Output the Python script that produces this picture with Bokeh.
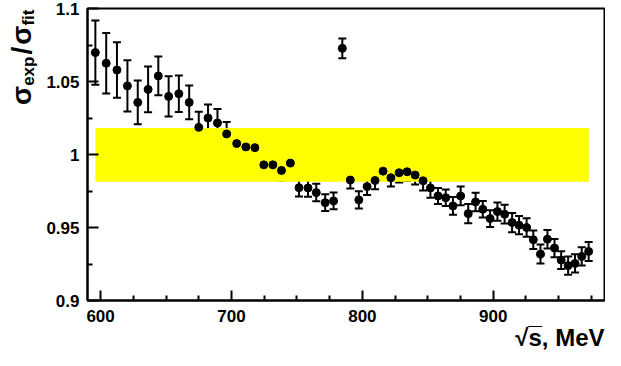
from bokeh.plotting import figure
from bokeh.layouts import row
from bokeh.models import (ColumnDataSource, Range1d, FixedTicker, Whisker, TeeHead, Div, Title)
from bokeh.embed import file_html
from bokeh.resources import INLINE

# ---- data ----
energy = [596.0, 604.3, 612.5, 620.5, 628.4, 636.3, 644.1, 652.0, 659.8, 667.7,
          675.0, 682.1, 689.3, 696.3, 704.0, 711.0, 717.9, 724.7, 731.6, 738.2,
          745.0, 751.6, 758.5, 764.8, 771.6, 778.0, 784.7, 790.8, 797.3, 803.6,
          809.7, 815.8, 821.8, 828.1, 834.2, 840.3, 846.4, 852.0, 857.8, 863.7,
          869.2, 875.1, 880.9, 886.5, 892.0, 897.6, 903.2, 908.7, 914.4, 919.7,
          925.5, 930.6, 936.1, 941.4, 946.8, 951.9, 957.2, 962.5, 967.6, 972.9]
ratio = [1.0698, 1.0625, 1.0579, 1.0470, 1.0357, 1.0446, 1.0538, 1.0398, 1.0416, 1.0357,
         1.0186, 1.0250, 1.0216, 1.0141, 1.0075, 1.0052, 1.0047, 0.9929, 0.9929, 0.9891,
         0.9941, 0.9773, 0.9771, 0.9739, 0.9670, 0.9682, 1.0727, 0.9825, 0.9689, 0.9780,
         0.9822, 0.9886, 0.9841, 0.9875, 0.9882, 0.9859, 0.9820, 0.9771, 0.9716, 0.9704,
         0.9648, 0.9716, 0.9595, 0.9675, 0.9625, 0.9561, 0.9609, 0.9591, 0.9534, 0.9516,
         0.9500, 0.9416, 0.9318, 0.9420, 0.9359, 0.9277, 0.9239, 0.9254, 0.9302, 0.9336]
ratio_err = [0.0220, 0.0207, 0.0190, 0.0176, 0.0150, 0.0157, 0.0133, 0.0138, 0.0125, 0.0116,
             0.0107, 0.0093, 0.0095, 0.0082, 0.0077, 0.0078, 0.0073, 0.0065, 0.0065, 0.0069,
             0.0060, 0.0060, 0.0060, 0.0060, 0.0057, 0.0057, 0.0068, 0.0058, 0.0059, 0.0057,
             0.0060, 0.0061, 0.0061, 0.0066, 0.0064, 0.0065, 0.0066, 0.0068, 0.0055, 0.0057,
             0.0061, 0.0064, 0.0066, 0.0063, 0.0057, 0.0057, 0.0063, 0.0064, 0.0066, 0.0063,
             0.0063, 0.0063, 0.0065, 0.0063, 0.0063, 0.0061, 0.0063, 0.0063, 0.0063, 0.0065]

band_x = [596.0, 973.0]
band_y = [0.9813, 1.0182]

x_range = [590.0, 985.0]
y_range = [0.9, 1.1]
x_major = [600, 700, 800, 900]
x_minor = [625, 650, 675, 725, 750, 775, 825, 850, 875, 925, 950, 975]
y_major = [0.9, 0.95, 1.0, 1.05, 1.1]
y_minor = [0.925, 0.975, 1.025, 1.075]
y_labels = ["0.9", "0.95", "1", "1.05", "1.1"]
x_title = "√s̅, MeV"

FONT = "Liberation Sans"
H = 350
YW = 40

# ---- main plot ----
p = figure(width=605 - YW, height=H, output_backend="svg", toolbar_location=None,
           x_range=Range1d(*x_range), y_range=Range1d(*y_range),
           min_border_left=47, min_border_right=1, min_border_top=8, min_border_bottom=50)
p.grid.visible = False
p.outline_line_color = "black"
p.outline_line_width = 2

p.quad(left=band_x[0], right=band_x[1], bottom=band_y[0], top=band_y[1],
       fill_color="#ffff00", line_color=None)

src = ColumnDataSource(dict(x=energy, y=ratio,
                            lo=[r - e for r, e in zip(ratio, ratio_err)],
                            hi=[r + e for r, e in zip(ratio, ratio_err)]))
wh = Whisker(source=src, base="x", upper="hi", lower="lo", line_color="black", line_width=2,
             upper_head=TeeHead(size=8, line_width=2, line_color="black"),
             lower_head=TeeHead(size=8, line_width=2, line_color="black"))
p.add_layout(wh)
p.scatter("x", "y", source=src, size=8, color="black")

for ax in (p.xaxis[0], p.yaxis[0]):
    ax.axis_line_width = 2
    ax.major_tick_line_width = 2
    ax.minor_tick_line_width = 2
    ax.major_tick_out = 0
    ax.minor_tick_out = 0
    ax.major_label_text_font = FONT
    ax.major_label_text_font_style = "bold"
    ax.major_label_text_font_size = "17px"
    ax.major_label_text_color = "black"

xa = p.xaxis[0]
xa.ticker = FixedTicker(ticks=x_major, minor_ticks=x_minor)
xa.major_tick_in = 10
xa.minor_tick_in = 5
xa.major_label_standoff = 9

ya = p.yaxis[0]
ya.ticker = FixedTicker(ticks=y_major, minor_ticks=y_minor)
ya.major_label_overrides = {v: s for v, s in zip(y_major, y_labels)}
ya.major_tick_in = 11
ya.minor_tick_in = 5
ya.major_label_standoff = 8

# x-axis title, right-aligned under the axis
xt = Title(text=x_title, align="right", text_font=FONT, text_font_style="bold",
           text_font_size="24px", text_color="black", standoff=-6)
p.add_layout(xt, "below")

# ---- y-axis title (rotated HTML text with subscripts) ----
sub = "font-size:17px;vertical-align:-3px;"
title_html = (
    f'<div style="position:relative;width:{YW}px;height:{H}px;overflow:visible;">'
    '<span style="position:absolute;left:8px;top:105px;transform:rotate(-90deg);'
    "transform-origin:0 0;white-space:nowrap;font-family:'Liberation Sans';"
    'font-weight:bold;font-size:28px;line-height:28px;color:black;">'
    f'σ<span style="{sub}">exp</span>'
    '<span style="margin:0 2px;">/</span>'
    f'σ<span style="{sub}">fit</span>'
    '</span></div>'
)
ytitle = Div(text=title_html, width=YW, height=H, margin=0)

layout = row(ytitle, p, spacing=0)
open("out.html", "w").write(file_html(layout, INLINE))
